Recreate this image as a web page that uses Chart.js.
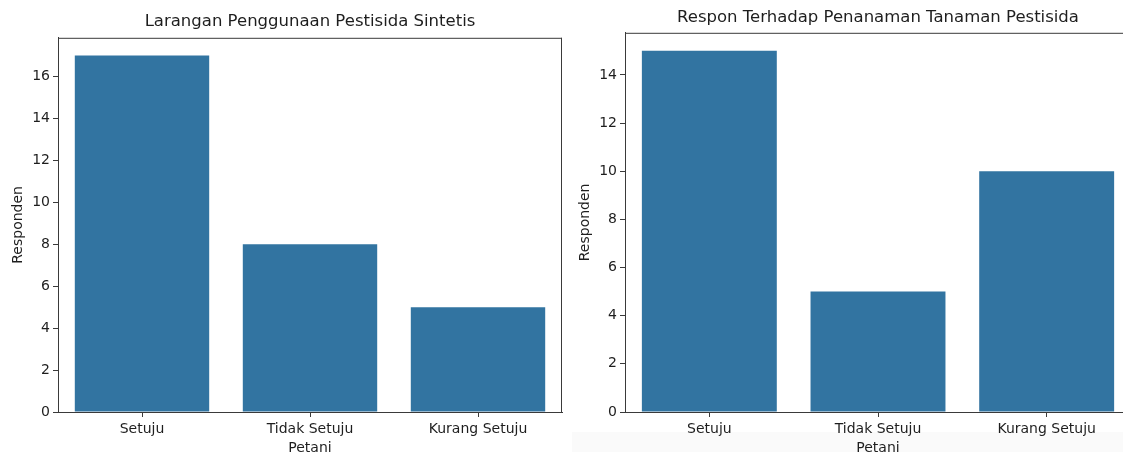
<!DOCTYPE html>
<html>
<head>
<meta charset="utf-8">
<script src="https://cdn.jsdelivr.net/npm/chart.js@4"></script>
<style>
  html, body { margin: 0; padding: 0; background: #fff; width: 1123px; height: 452px; overflow: hidden; position: relative; }
  #shade { position: absolute; left: 572px; top: 432px; width: 551px; height: 20px; background: #fafafa; }
  .wrap { position: absolute; top: 0; }
  #w1 { left: 0; width: 580px; height: 460px; }
  #w2 { left: 565px; width: 580px; height: 460px; }
</style>
</head>
<body>
<div id="shade"></div>
<div class="wrap" id="w1"><canvas id="c1"></canvas></div>
<div class="wrap" id="w2"><canvas id="c2"></canvas></div>
<script>
const categories = ["Setuju", "Tidak Setuju", "Kurang Setuju"];
const larangan = [17, 8, 5];
const respon = [15, 5, 10];
const titles = ["Larangan Penggunaan Pestisida Sintetis", "Respon Terhadap Penanaman Tanaman Pestisida"];
const xTitle = "Petani";
const yTitle = "Responden";

const FONT = "'DejaVu Sans', sans-serif";
const TXT = "#1e1e1e";
const AX = "#3a3a3a";

const framePlugin = {
  id: 'frame',
  afterDraw(chart) {
    const a = chart.chartArea, ctx = chart.ctx;
    ctx.save();
    ctx.strokeStyle = AX;
    ctx.lineWidth = 1;
    ctx.beginPath();
    ctx.moveTo(a.left, a.top + 0.5);
    ctx.lineTo(a.right, a.top + 0.5);
    ctx.moveTo(a.right - 0.5, a.top);
    ctx.lineTo(a.right - 0.5, a.bottom);
    ctx.stroke();
    ctx.restore();
  }
};

function makeChart(id, values, title, yMax, yAxisWidth, titlePad, rightPad, yTitlePad) {
  return new Chart(document.getElementById(id), {
    type: 'bar',
    data: {
      labels: categories,
      datasets: [{
        data: values,
        backgroundColor: '#3274a1',
        borderWidth: 0,
        categoryPercentage: 1.0,
        barPercentage: 0.8
      }]
    },
    options: {
      responsive: true,
      maintainAspectRatio: false,
      animation: false,
      events: [],
      layout: { padding: { left: 0, right: rightPad, top: 0, bottom: 0 } },
      plugins: {
        legend: { display: false },
        tooltip: { enabled: false },
        title: {
          display: true,
          fullSize: false,
          text: title,
          color: TXT,
          font: { family: FONT, size: 16.5, weight: 'normal', lineHeight: 1.2 },
          padding: titlePad
        }
      },
      scales: {
        x: {
          offset: true,
          grid: { display: true, drawOnChartArea: false, drawTicks: true, tickLength: 5, offset: false, color: AX },
          border: { display: true, color: AX, width: 1 },
          ticks: { color: TXT, font: { family: FONT, size: 14 }, padding: 4, maxRotation: 0, autoSkip: false },
          title: { display: true, text: xTitle, color: TXT, font: { family: FONT, size: 14, lineHeight: 1.2 }, padding: { top: 0, bottom: 3 } },
          afterFit(scale) { scale.height = 48; }
        },
        y: {
          min: 0,
          max: yMax,
          grid: { display: true, drawOnChartArea: false, drawTicks: true, tickLength: 5, color: AX },
          border: { display: true, color: AX, width: 1 },
          ticks: { stepSize: 2, includeBounds: false, color: TXT, font: { family: FONT, size: 14 }, padding: 3 },
          afterBuildTicks(scale) { scale.ticks = scale.ticks.filter(t => Number.isInteger(t.value) && t.value % 2 === 0); },
          title: { display: true, text: yTitle, color: TXT, font: { family: FONT, size: 14, lineHeight: 1.2 }, padding: { top: yTitlePad, bottom: 0 } },
          afterFit(scale) { scale.width = yAxisWidth; }
        }
      }
    },
    plugins: [framePlugin]
  });
}

makeChart('c1', larangan, titles[0], 17 * 1.05, 58, { top: 12, bottom: 6 }, 18, 10);
makeChart('c2', respon, titles[1], 15 * 1.05, 60, { top: 8, bottom: 5 }, 14, 12);
</script>
</body>
</html>
